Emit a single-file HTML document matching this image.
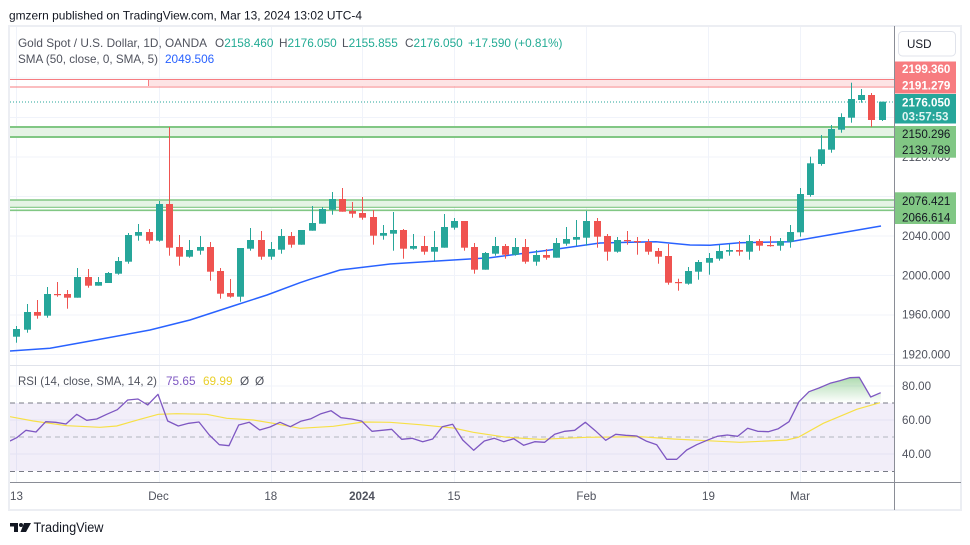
<!DOCTYPE html>
<html><head><meta charset="utf-8">
<style>
html,body{margin:0;padding:0;background:#fff;}
body{width:970px;height:545px;overflow:hidden;}
svg{display:block;}
text{font-family:"Liberation Sans",Arial,sans-serif;}
.g{fill:#26a69a}
.r{fill:#ef5350}
.ax{font-size:11.6px;fill:#50535e}
.tl{font-size:11.6px;fill:#50535e}
</style></head>
<body>
<svg width="970" height="545" viewBox="0 0 970 545" xmlns="http://www.w3.org/2000/svg">
<defs>
<linearGradient id="gf" x1="0" y1="0" x2="0" y2="1">
<stop offset="0" stop-color="#4caf50" stop-opacity="0.45"/>
<stop offset="1" stop-color="#4caf50" stop-opacity="0"/>
</linearGradient>
<clipPath id="cm"><rect x="10" y="27" width="884" height="338"/></clipPath>
<clipPath id="cr"><rect x="10" y="366" width="884" height="116"/></clipPath>
</defs>

<!-- header -->
<text x="9" y="19.5" font-size="12" fill="#131722" textLength="353" lengthAdjust="spacingAndGlyphs">gmzern published on TradingView.com, Mar 13, 2024 13:02 UTC-4</text>

<!-- frame -->
<rect x="9" y="26" width="952" height="484" fill="none" stroke="#eceef3" stroke-width="2"/>

<!-- grid main -->
<g stroke="#f0f3fa" stroke-width="1">
<line x1="10" y1="78" x2="894" y2="78"/>
<line x1="10" y1="117.5" x2="894" y2="117.5"/>
<line x1="10" y1="157" x2="894" y2="157"/>
<line x1="10" y1="196.5" x2="894" y2="196.5"/>
<line x1="10" y1="236" x2="894" y2="236"/>
<line x1="10" y1="275.5" x2="894" y2="275.5"/>
<line x1="10" y1="315" x2="894" y2="315"/>
<line x1="10" y1="354.5" x2="894" y2="354.5"/>
<line x1="10" y1="386" x2="894" y2="386"/>
<line x1="10" y1="420" x2="894" y2="420"/>
<line x1="10" y1="454" x2="894" y2="454"/>
<line x1="16.5" y1="27" x2="16.5" y2="482"/>
<line x1="159.5" y1="27" x2="159.5" y2="482"/>
<line x1="271.5" y1="27" x2="271.5" y2="482"/>
<line x1="362.5" y1="27" x2="362.5" y2="482"/>
<line x1="454.5" y1="27" x2="454.5" y2="482"/>
<line x1="586.5" y1="27" x2="586.5" y2="482"/>
<line x1="708.5" y1="27" x2="708.5" y2="482"/>
<line x1="800.5" y1="27" x2="800.5" y2="482"/>
</g>

<!-- legend -->
<g font-size="11.8">
<text x="18" y="47" fill="#50535e" textLength="189" lengthAdjust="spacingAndGlyphs">Gold Spot / U.S. Dollar, 1D, OANDA</text>
<text x="215" y="47"><tspan fill="#50535e">O</tspan><tspan fill="#22ab94">2158.460</tspan></text>
<text x="279" y="47"><tspan fill="#50535e">H</tspan><tspan fill="#22ab94">2176.050</tspan></text>
<text x="342" y="47"><tspan fill="#50535e">L</tspan><tspan fill="#22ab94">2155.855</tspan></text>
<text x="405" y="47"><tspan fill="#50535e">C</tspan><tspan fill="#22ab94">2176.050</tspan></text>
<text x="468" y="47" fill="#22ab94">+17.590 (+0.81%)</text>
<text x="18" y="63" fill="#50535e" textLength="140" lengthAdjust="spacingAndGlyphs">SMA (50, close, 0, SMA, 5)</text>
<text x="165" y="63" fill="#2962ff">2049.506</text>
</g>

<g clip-path="url(#cm)">
<!-- red zone -->
<rect x="148" y="79.5" width="746" height="6.5" fill="#fde4e5"/>
<line x1="148.5" y1="79.5" x2="148.5" y2="86" stroke="#f77c80" stroke-width="1"/>
<line x1="10" y1="79.5" x2="894" y2="79.5" stroke="#f77c80" stroke-width="1"/>
<line x1="10" y1="87" x2="894" y2="87" stroke="#f77c80" stroke-width="1"/>
<!-- green zone 1 -->
<rect x="10" y="127" width="884" height="10" fill="#e5f3e5"/>
<line x1="10" y1="127" x2="894" y2="127" stroke="#81c784" stroke-width="2"/>
<line x1="10" y1="137" x2="894" y2="137" stroke="#81c784" stroke-width="2"/>
<!-- green zone 2 -->
<rect x="10" y="200" width="884" height="7.3" fill="#e5f3e5"/>
<line x1="10" y1="200" x2="894" y2="200" stroke="#81c784" stroke-width="1.6"/>
<line x1="10" y1="207.3" x2="894" y2="207.3" stroke="#81c784" stroke-width="1.2"/>
<line x1="10" y1="210.3" x2="894" y2="210.3" stroke="#81c784" stroke-width="1.6"/>
<!-- last price dotted -->
<line x1="10" y1="102" x2="894" y2="102" stroke="#26a69a" stroke-width="1" stroke-dasharray="1,2"/>

<!-- SMA -->
<polyline fill="none" stroke="#2962ff" stroke-width="1.5" points="10,351 50,348.3 100,339.3 150,330 190,320 233,306 267,295 300,282.7 310,279.3 340,270 390,264 433,261.3 490,257.7 550,250 600,243 656,241.7 690,245 710,245.3 740,242.7 790,241.7 823,236 881,226"/>

<!-- candles -->
<rect class="g" x="16" y="326" width="1" height="16.7"/><rect class="g" x="13" y="329" width="7" height="7.7"/>
<rect class="g" x="27" y="304" width="1" height="28.7"/><rect class="g" x="24" y="312" width="7" height="17.7"/>
<rect class="r" x="37" y="300" width="1" height="18.7"/><rect class="r" x="34" y="312" width="7" height="3.7"/>
<rect class="g" x="47" y="287" width="1" height="30.7"/><rect class="g" x="44" y="294" width="7" height="21.7"/>
<rect class="r" x="57" y="282" width="1" height="14.7"/><rect class="r" x="54" y="294" width="7" height="1.2"/>
<rect class="r" x="67" y="290" width="1" height="18.7"/><rect class="r" x="64" y="294" width="7" height="3.7"/>
<rect class="g" x="77" y="268" width="1" height="29.7"/><rect class="g" x="74" y="277" width="7" height="20.7"/>
<rect class="r" x="88" y="269" width="1" height="18.7"/><rect class="r" x="85" y="277" width="7" height="8.7"/>
<rect class="g" x="98" y="277" width="1" height="8.7"/><rect class="g" x="95" y="282" width="7" height="3.7"/>
<rect class="g" x="108" y="272" width="1" height="11"/><rect class="g" x="105" y="273" width="7" height="10"/>
<rect class="g" x="118" y="257" width="1" height="17.7"/><rect class="g" x="115" y="261" width="7" height="12.7"/>
<rect class="g" x="128" y="233" width="1" height="30.7"/><rect class="g" x="125" y="235" width="7" height="26.7"/>
<rect class="g" x="138" y="224" width="1" height="16.7"/><rect class="g" x="135" y="232" width="7" height="3.7"/>
<rect class="r" x="149" y="229" width="1" height="14.7"/><rect class="r" x="146" y="232" width="7" height="8.7"/>
<rect class="g" x="159" y="201" width="1" height="40.7"/><rect class="g" x="156" y="204" width="7" height="36.7"/>
<rect class="r" x="169" y="127" width="1" height="128.7"/><rect class="r" x="166" y="204" width="7" height="43.7"/>
<rect class="r" x="179" y="235" width="1" height="30.7"/><rect class="r" x="176" y="247" width="7" height="9.7"/>
<rect class="g" x="189" y="240" width="1" height="17.7"/><rect class="g" x="186" y="250" width="7" height="6.7"/>
<rect class="g" x="200" y="236" width="1" height="18.7"/><rect class="g" x="197" y="247" width="7" height="3.7"/>
<rect class="r" x="210" y="242" width="1" height="38.7"/><rect class="r" x="207" y="247" width="7" height="24.7"/>
<rect class="r" x="220" y="268" width="1" height="30.7"/><rect class="r" x="217" y="271" width="7" height="22.7"/>
<rect class="r" x="230" y="279" width="1" height="18.7"/><rect class="r" x="227" y="293" width="7" height="3.7"/>
<rect class="g" x="240" y="248" width="1" height="53.7"/><rect class="g" x="237" y="248" width="7" height="48.7"/>
<rect class="g" x="250" y="228" width="1" height="22.7"/><rect class="g" x="247" y="240" width="7" height="8.7"/>
<rect class="r" x="261" y="231" width="1" height="28.7"/><rect class="r" x="258" y="240" width="7" height="16.7"/>
<rect class="g" x="271" y="242" width="1" height="17.7"/><rect class="g" x="268" y="249" width="7" height="7.7"/>
<rect class="g" x="281" y="229" width="1" height="24.7"/><rect class="g" x="278" y="236" width="7" height="13.7"/>
<rect class="r" x="291" y="232" width="1" height="15.7"/><rect class="r" x="288" y="236" width="7" height="8.7"/>
<rect class="g" x="301" y="230" width="1" height="14.7"/><rect class="g" x="298" y="230" width="7" height="14.7"/>
<rect class="g" x="312" y="206" width="1" height="24.7"/><rect class="g" x="309" y="223" width="7" height="7.7"/>
<rect class="g" x="322" y="207" width="1" height="16.7"/><rect class="g" x="319" y="209" width="7" height="14.7"/>
<rect class="g" x="332" y="192" width="1" height="22.7"/><rect class="g" x="329" y="199" width="7" height="10.7"/>
<rect class="r" x="342" y="188" width="1" height="23.7"/><rect class="r" x="339" y="199" width="7" height="12.7"/>
<rect class="r" x="352" y="202" width="1" height="15.7"/><rect class="r" x="349" y="211" width="7" height="2.7"/>
<rect class="r" x="362" y="197" width="1" height="22.7"/><rect class="r" x="359" y="213" width="7" height="4.7"/>
<rect class="r" x="373" y="210" width="1" height="34.7"/><rect class="r" x="370" y="217" width="7" height="18.7"/>
<rect class="g" x="383" y="225" width="1" height="14.7"/><rect class="g" x="380" y="233" width="7" height="2.7"/>
<rect class="g" x="393" y="212" width="1" height="38.7"/><rect class="g" x="390" y="230" width="7" height="3.7"/>
<rect class="r" x="403" y="229" width="1" height="29.7"/><rect class="r" x="400" y="230" width="7" height="18.7"/>
<rect class="g" x="413" y="234" width="1" height="15.7"/><rect class="g" x="410" y="246" width="7" height="2.7"/>
<rect class="r" x="424" y="236" width="1" height="18.7"/><rect class="r" x="421" y="246" width="7" height="5.7"/>
<rect class="g" x="434" y="231" width="1" height="29.7"/><rect class="g" x="431" y="247" width="7" height="4.7"/>
<rect class="g" x="444" y="214" width="1" height="33.7"/><rect class="g" x="441" y="227" width="7" height="20.7"/>
<rect class="g" x="454" y="218" width="1" height="11.7"/><rect class="g" x="451" y="221" width="7" height="6.7"/>
<rect class="r" x="464" y="221" width="1" height="29.7"/><rect class="r" x="461" y="221" width="7" height="26.7"/>
<rect class="r" x="474" y="243" width="1" height="30.7"/><rect class="r" x="471" y="247" width="7" height="22.7"/>
<rect class="g" x="485" y="252" width="1" height="17.7"/><rect class="g" x="482" y="253" width="7" height="16.7"/>
<rect class="g" x="495" y="237" width="1" height="18.7"/><rect class="g" x="492" y="246" width="7" height="7.7"/>
<rect class="r" x="505" y="244" width="1" height="14.7"/><rect class="r" x="502" y="246" width="7" height="8.7"/>
<rect class="g" x="515" y="238" width="1" height="17.7"/><rect class="g" x="512" y="247" width="7" height="7.7"/>
<rect class="r" x="525" y="239" width="1" height="24.7"/><rect class="r" x="522" y="247" width="7" height="14.7"/>
<rect class="g" x="536" y="250" width="1" height="15.7"/><rect class="g" x="533" y="255" width="7" height="6.7"/>
<rect class="r" x="546" y="249" width="1" height="10.7"/><rect class="r" x="543" y="255" width="7" height="2.7"/>
<rect class="g" x="556" y="238" width="1" height="19.7"/><rect class="g" x="553" y="243" width="7" height="14.7"/>
<rect class="g" x="566" y="227" width="1" height="18.7"/><rect class="g" x="563" y="239" width="7" height="4.7"/>
<rect class="g" x="576" y="220" width="1" height="25.7"/><rect class="g" x="573" y="237" width="7" height="2.7"/>
<rect class="g" x="586" y="211" width="1" height="34.7"/><rect class="g" x="583" y="221" width="7" height="16.7"/>
<rect class="r" x="597" y="218" width="1" height="29.7"/><rect class="r" x="594" y="221" width="7" height="15.7"/>
<rect class="r" x="607" y="234" width="1" height="26.7"/><rect class="r" x="604" y="236" width="7" height="15.7"/>
<rect class="g" x="617" y="237" width="1" height="15.7"/><rect class="g" x="614" y="240" width="7" height="11.7"/>
<rect class="r" x="627" y="231" width="1" height="13.7"/><rect class="r" x="624" y="240" width="7" height="1.2"/>
<rect class="r" x="637" y="237" width="1" height="17.7"/><rect class="r" x="634" y="241" width="7" height="1.2"/>
<rect class="r" x="648" y="239" width="1" height="15.7"/><rect class="r" x="645" y="242" width="7" height="9.7"/>
<rect class="r" x="658" y="248" width="1" height="15.7"/><rect class="r" x="655" y="251" width="7" height="5.7"/>
<rect class="r" x="668" y="244" width="1" height="40.7"/><rect class="r" x="665" y="256" width="7" height="26.7"/>
<rect class="r" x="678" y="278.7" width="1" height="12"/><rect class="r" x="675" y="282" width="7" height="1.2"/>
<rect class="g" x="688" y="267" width="1" height="17.7"/><rect class="g" x="685" y="271" width="7" height="12.7"/>
<rect class="g" x="698" y="260" width="1" height="19.7"/><rect class="g" x="695" y="262" width="7" height="9.7"/>
<rect class="g" x="709" y="253" width="1" height="21.7"/><rect class="g" x="706" y="258" width="7" height="4.7"/>
<rect class="g" x="719" y="245" width="1" height="15.7"/><rect class="g" x="716" y="251" width="7" height="7.7"/>
<rect class="g" x="729" y="244" width="1" height="11.7"/><rect class="g" x="726" y="250" width="7" height="1.7"/>
<rect class="r" x="739" y="241" width="1" height="14.7"/><rect class="r" x="736" y="250" width="7" height="1.7"/>
<rect class="g" x="749" y="235" width="1" height="24.7"/><rect class="g" x="746" y="241" width="7" height="10.7"/>
<rect class="r" x="759" y="239" width="1" height="11.7"/><rect class="r" x="756" y="241" width="7" height="4.7"/>
<rect class="r" x="770" y="236" width="1" height="10.7"/><rect class="r" x="767" y="245" width="7" height="1.2"/>
<rect class="g" x="780" y="238" width="1" height="12.7"/><rect class="g" x="777" y="241" width="7" height="4.7"/>
<rect class="g" x="790" y="225" width="1" height="22.7"/><rect class="g" x="787" y="232" width="7" height="9.7"/>
<rect class="g" x="800" y="188" width="1" height="48.7"/><rect class="g" x="797" y="194" width="7" height="38.3"/>
<rect class="g" x="810" y="156.7" width="1" height="40"/><rect class="g" x="807" y="163.3" width="7" height="31.7"/>
<rect class="g" x="821" y="135" width="1" height="30.7"/><rect class="g" x="818" y="149.3" width="7" height="14.7"/>
<rect class="g" x="831" y="125" width="1" height="27.7"/><rect class="g" x="828" y="129" width="7" height="20.7"/>
<rect class="g" x="841" y="113.3" width="1" height="19.4"/><rect class="g" x="838" y="117" width="7" height="12.7"/>
<rect class="g" x="851" y="82.7" width="1" height="40"/><rect class="g" x="848" y="99" width="7" height="18.7"/>
<rect class="g" x="861" y="89" width="1" height="13.7"/><rect class="g" x="858" y="95" width="7" height="5"/>
<rect class="r" x="871" y="93" width="1" height="34"/><rect class="r" x="868" y="95" width="7" height="25"/>
<rect class="g" x="882" y="101.7" width="1" height="19.3"/><rect class="g" x="879" y="101.7" width="7" height="18.3"/>
</g>

<!-- RSI pane -->
<line x1="10" y1="365.5" x2="961" y2="365.5" stroke="#e0e3eb" stroke-width="1"/>
<g clip-path="url(#cr)">
<rect x="10" y="403" width="884" height="68" fill="#7e57c2" fill-opacity="0.1"/>
<line x1="10" y1="403" x2="894" y2="403" stroke="#787b86" stroke-width="1" stroke-dasharray="5,4"/>
<line x1="10" y1="437" x2="894" y2="437" stroke="#b2b5be" stroke-width="1" stroke-dasharray="5,4"/>
<line x1="10" y1="471.5" x2="894" y2="471.5" stroke="#787b86" stroke-width="1" stroke-dasharray="5,4"/>
<polygon fill="url(#gf)" points="798.6,403 799,401.7 809,391.7 819,388 830,383.3 839.7,380.7 849.7,377.7 859.3,377.3 870.7,397 880.7,392.7 880.7,403"/>
<polyline fill="none" stroke="#f7e047" stroke-width="1.2" points="10,416.7 33.3,421 66.7,425.7 100,427.3 116.7,426 140,419.3 158.3,414.3 176.7,413.7 206.7,414.3 226.7,418.3 253.3,420 273.3,423.3 300,428.3 333.3,426.3 363.3,422 390,422.3 420,424.7 440,426.7 453.3,428 473.3,432.3 506.7,437.3 540,439.3 586.7,437.3 640,436.7 673.3,439 706.7,440.7 740,442.3 786.7,440 798.3,437.3 823.3,423.3 856.7,409.3 880,402.7"/>
<polyline fill="none" stroke="#7e57c2" stroke-width="1.3" stroke-linejoin="round" points="10,441 16.7,437.7 26,430.3 36,432 45.7,421.7 55.7,422.3 66,424 76.7,414.3 86.7,420.3 96.7,419 106.7,414.3 117.3,409.7 127.7,400 138,399 147.7,405 158,394.3 167.7,421 178.3,426 188.7,423.3 199,422 209.3,435 219.3,444.7 229,445.7 238.7,425 249.3,422.3 259.7,430 270,427 280,422.3 290.3,426.7 300.7,421.3 311,418.7 321,413.7 331,410.7 341,417.7 351.7,419 362,421.3 372,431.3 382,430.3 391.7,429.3 401.7,439.3 412,438.3 422.7,441.7 432.7,439 442.3,426.7 452.7,424.3 462.7,440 473.7,450.3 484.3,441 494.3,438.3 503.7,441.7 513.7,438.7 523.7,445.3 534.7,441.7 544.7,442.3 554.7,434.3 564.7,431.3 574.7,430.3 585.3,422.3 595.3,430.7 605.7,440.3 615.7,434.3 625.7,435.3 636.7,436 646.7,441.3 656.7,444.7 666.7,459.3 676.7,459.3 686.7,450 696.7,444.7 707,440.3 717.3,436.3 727.3,435 737.7,436.3 747.7,428.3 757.7,431.3 768.3,431.7 778.3,428.7 789,421.7 799,401.7 809,391.7 819,388 830,383.3 839.7,380.7 849.7,377.7 859.3,377.3 870.7,397 880.7,392.7"/>
</g>
<g font-size="11.8">
<text x="18" y="385" fill="#50535e" textLength="139" lengthAdjust="spacingAndGlyphs">RSI (14, close, SMA, 14, 2)</text>
<text x="166" y="385" fill="#7e57c2">75.65</text>
<text x="203" y="385" fill="#e9cf2a">69.99</text>
<text x="240" y="385" fill="#50535e">Ø</text>
<text x="255" y="385" fill="#50535e">Ø</text>
</g>

<!-- axes lines -->
<line x1="10" y1="482.5" x2="961" y2="482.5" stroke="#8a8d96" stroke-width="1"/>
<line x1="894.5" y1="26" x2="894.5" y2="510" stroke="#8a8d96" stroke-width="1"/>

<!-- price axis labels -->
<g class="ax">
<text class="ax" x="902" y="161">2120.000</text>
<text class="ax" x="902" y="240">2040.000</text>
<text class="ax" x="902" y="279.5">2000.000</text>
<text class="ax" x="902" y="318.5">1960.000</text>
<text class="ax" x="902" y="358.5">1920.000</text>
<text class="ax" x="902" y="390">80.00</text>
<text class="ax" x="902" y="424">60.00</text>
<text class="ax" x="902" y="458">40.00</text>
</g>
<rect x="898.5" y="31.5" width="57" height="24.5" rx="4" fill="#fff" stroke="#e0e3eb" stroke-width="1"/>
<text x="907" y="48" font-size="11.6" fill="#131722">USD</text>

<rect x="895" y="61.5" width="61" height="32" fill="#f77c80"/>
<text x="902" y="73" font-size="11.6" fill="#fff" font-weight="bold">2199.360</text>
<text x="902" y="89.5" font-size="11.6" fill="#fff" font-weight="bold">2191.279</text>
<rect x="895" y="94" width="61" height="29.5" fill="#26a69a"/>
<text x="902" y="106.3" font-size="11.6" fill="#fff" font-weight="bold">2176.050</text>
<text x="902" y="120.7" font-size="11.6" fill="#dff5f2" font-weight="bold">03:57:53</text>
<rect x="895" y="126" width="61" height="31.7" fill="#81c784"/>
<text x="902" y="138" font-size="11.6" fill="#131722">2150.296</text>
<text x="902" y="154" font-size="11.6" fill="#131722">2139.789</text>
<rect x="895" y="192.3" width="61" height="31.7" fill="#81c784"/>
<text x="902" y="205" font-size="11.6" fill="#131722">2076.421</text>
<text x="902" y="221.3" font-size="11.6" fill="#131722">2066.614</text>

<!-- time axis -->
<g class="tl" text-anchor="middle">
<text class="tl" x="16.5" y="500">13</text>
<text class="tl" x="158.5" y="500">Dec</text>
<text class="tl" x="270.8" y="500">18</text>
<text class="tl" x="362" y="500" font-weight="bold" fill="#2a2e39">2024</text>
<text class="tl" x="454" y="500">15</text>
<text class="tl" x="586.4" y="500">Feb</text>
<text class="tl" x="708.5" y="500">19</text>
<text class="tl" x="800" y="500">Mar</text>
</g>

<!-- footer logo -->
<path d="M10 523 h8 v9 h-4 v-5.5 h-4 z" fill="#131722"/>
<circle cx="21" cy="525" r="2" fill="#131722"/>
<path d="M24 523 h7 l-5 9 h-5.5 z" fill="#131722"/>
<text x="33.5" y="532" font-size="13.5" fill="#131722" textLength="70" lengthAdjust="spacingAndGlyphs">TradingView</text>
</svg>
</body></html>
